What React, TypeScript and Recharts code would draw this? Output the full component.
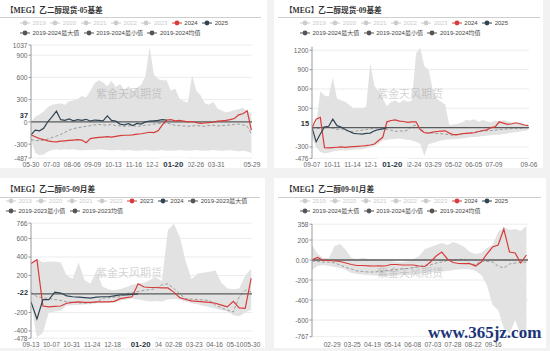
import React from 'react';
import { ComposedChart, Area, Line, XAxis, YAxis, CartesianGrid, ReferenceLine } from 'recharts';

const C_RED = '#d63c3a';
const C_NAVY = '#2f4554';
const C_BAND = '#e2e2e2';
const C_AVG = '#9c9c9c';
const C_OFF = '#cccccc';
const C_STAT = '#555555';
const SANS = "'Liberation Sans', 'Noto Sans CJK SC', sans-serif";
const SERIF = "'Liberation Serif', 'Noto Sans CJK SC', serif";

// ---------------- Panel 1: 乙二醇现货-05基差 (weekly samples) ----------------
const P1_TITLE = '【MEG】乙二醇现货-05基差';
const P1_YEARS_OFF = ['2019', '2020', '2021', '2022', '2023'];
const P1_YEAR_RED = '2024';
const P1_YEAR_NAVY = '2025';
const P1_STATS = ['2019-2024最大值', '2019-2024最小值', '2019-2024均值'];
const P1_MAX = [0, 70, 100, 140, 200, 230, 240, 250, 230, 280, 290, 310, 350, 330, 420, 520, 560, 530, 480, 550, 470, 510, 430, 480, 420, 460, 500, 620, 1010, 640, 580, 560, 560, 420, 450, 320, 280, 260, 630, 420, 360, 250, 230, 270, 180, 150, 130, 140, 160, 170, 190, 140, 120];
const P1_MIN = [-240, -420, -450, -440, -400, -380, -370, -380, -370, -375, -370, -380, -385, -380, -375, -380, -370, -375, -380, -385, -380, -380, -385, -380, -385, -390, -385, -380, -385, -390, -385, -380, -390, -385, -390, -380, -385, -390, -385, -380, -385, -390, -385, -380, -385, -390, -385, -380, -390, -395, -390, -400, -420];
const P1_AVG = [-240, -250, -255, -245, -230, -210, -190, -170, -140, -110, -90, -80, -70, -60, -50, -40, -35, -40, -45, -35, -50, -55, -60, -55, -50, -60, -55, -45, -40, -30, -25, -20, -15, -30, -45, -50, -55, -60, -55, -50, -55, -60, -50, -45, -55, -50, -45, -40, -35, -30, -40, -60, -160];
const P1_RED = [-175, -200, -225, -240, -255, -265, -270, -260, -255, -250, -245, -240, -245, -280, -225, -215, -210, -205, -200, -205, -195, -185, -180, -180, -175, -165, -160, -150, -140, -145, -120, -40, 25, 30, 15, 20, 10, 0, 5, -10, -20, -15, -10, -5, 10, 15, 20, 30, 45, 95, 110, 150, -110];
const P1_DARK = [-175, -110, -120, -85, 5, 70, 145, 30, 20, 40, 15, 30, 20, 35, 10, 25, 20, 15, 80, 20, 10, -30, -40, -25, -50, -20, -30, 0, 10, 15, 20, 30, 25];
const P1_X_DAYS = [0, 34, 68, 102, 136, 170, 204, 272, 306, 365];
const P1_X_LABELS = ['05-30', '07-03', '08-06', '09-09', '10-13', '11-16', '12-20', '02-26', '03-31', '05-29'];
const P1_BOLD_DAY = 235;
const P1_BOLD_LABEL = '01-20';
const P1_Y_TICKS = [1037, 900, 600, 300, 0, -300, -487];
const P1_Y_LABELS = ['1037', '900', '600', '300', '0', '-300', '-487'];
const P1_MARK = 37;

// ---------------- Panel 2: 乙二醇现货-09基差 ----------------
const P2_TITLE = '【MEG】乙二醇现货-09基差';
const P2_MAX = [20, 60, 560, 500, 480, 780, 450, 420, 400, 350, 300, 310, 300, 320, 1000, 650, 550, 450, 330, 400, 420, 380, 430, 400, 420, 1150, 1240, 950, 900, 600, 450, 400, 360, 40, 50, 60, 80, 120, 110, 130, 90, 120, 100, 80, 110, 90, 120, 100, 80, 70, 60, 50, 40];
const P2_MIN = [-150, -300, -380, -400, -390, -370, -360, -350, -355, -350, -345, -340, -335, -320, -310, -280, -250, -200, -190, -180, -175, -170, -180, -190, -200, -220, -250, -440, -260, -240, -220, -200, -190, -185, -180, -175, -170, -160, -150, -145, -140, -130, -125, -120, -115, -110, -100, -90, -80, -70, -60, -50, -40];
const P2_AVG = [0, -20, -10, 20, 10, -10, -30, -20, -40, -60, -55, -50, -40, -30, -20, -10, -5, -15, -30, -40, -60, -50, -55, -40, 20, 40, -10, -70, -80, -85, -90, -95, -100, -110, -120, -110, -100, -90, -80, -75, -65, -55, -50, -45, -40, -30, -25, -20, -15, -10, -10, -5, 0];
const P2_RED = [0, 130, 160, -310, -315, -310, -305, -300, -305, -300, -295, -290, -285, -280, -270, -255, -200, -150, 90, 110, 120, 100, 95, 80, 90, 90, -30, -80, -85, -70, -60, -55, -50, -85, -110, -110, -95, -90, -85, -80, -60, -45, -35, 0, 10, 90, 70, 50, 60, 75, 60, 40, 30];
const P2_DARK = [0, -220, -100, 10, 20, 130, 30, 10, -30, -60, -90, -95, -100, -90, -85, -50, -30, -20, 0];
const P2_X_DAYS = [0, 34, 68, 102, 170, 204, 238, 272, 306, 365];
const P2_X_LABELS = ['09-07', '10-11', '11-14', '12-18', '02-24', '03-29', '05-02', '06-05', '07-09', '09-06'];
const P2_BOLD_DAY = 135;
const P2_BOLD_LABEL = '01-20';
const P2_Y_TICKS = [1200, 900, 600, 300, -300, -476];
const P2_Y_LABELS = ['1200', '900', '600', '300', '-300', '-476'];
const P2_MARK = 15;

// ---------------- Panel 3: 乙二醇05-09月差 ----------------
const P3_TITLE = '【MEG】乙二醇05-09月差';
const P3_YEARS_OFF = ['2019', '2020', '2021', '2022'];
const P3_YEAR_RED = '2023';
const P3_YEAR_NAVY = '2024';
const P3_STATS = ['2019-2023最大值', '2019-2023最小值', '2019-2023均值'];
const P3_MAX = [330, 380, 340, 350, 350, 340, 200, 165, 340, 150, 110, 250, 80, 50, 40, 55, 75, 100, 110, 120, 150, 180, 140, 690, 760, 620, 350, 160, 220, 230, 240, 255, 120, 60, 50, 60, 200, 270];
const P3_MIN = [-100, -470, -420, -200, -190, -180, -125, -122, -120, -115, -110, -100, -100, -95, -95, -70, -60, -50, -60, -70, -80, -75, -80, -60, -55, -60, -80, -100, -110, -130, -140, -160, -175, -190, -230, -240, -200, -170];
const P3_AVG = [20, -30, -40, -50, -60, -70, -85, -90, -95, -100, -95, -90, -45, -40, -35, -30, 5, 15, 25, 40, 45, 60, 100, 110, 60, 0, -50, -55, -60, -65, -70, -120, -150, -175, -195, -30, 40, 20];
const P3_RED = [330, 370, -130, -140, -135, -130, -100, -90, -85, -90, -90, -85, -85, -85, -80, -50, -40, -30, 110, 75, 70, 70, 65, 65, 20, -40, -60, -75, -80, -85, -90, -100, -120, -140, -80, -150, -155, 170];
const P3_DARK = [-85, -270, -60, -60, 20, 10, -20, -30, -35, -40, -45, -35, -30, -30, -20, -10, -10, -5, 0];
const P3_X_DAYS = [0, 24, 48, 72, 96, 144, 168, 192, 216, 240, 260];
const P3_X_LABELS = ['09-13', '10-07', '10-31', '11-24', '12-18', '02-04', '02-28', '03-23', '04-16', '05-10', '05-30'];
const P3_BOLD_DAY = 129;
const P3_BOLD_LABEL = '01-20';
const P3_Y_TICKS = [766, 600, 400, 200, -200, -400, -478];
const P3_Y_LABELS = ['766', '600', '400', '200', '-200', '-400', '-478'];
const P3_MARK = -22;

// ---------------- Panel 4: 乙二醇09-01月差 ----------------
const P4_TITLE = '【MEG】乙二醇09-01月差';
const P4_MAX = [150, 60, 20, 20, 140, 160, 100, 20, 10, 20, 10, 0, -10, 0, -10, -20, -20, -10, 10, 40, 110, 130, 150, 170, 150, 180, 160, 130, 80, 60, 70, 120, 150, 280, 330, 300, 310, 290, 340];
const P4_MIN = [-100, -60, -50, -60, -70, -80, -100, -130, -140, -145, -150, -155, -160, -165, -160, -155, -150, -150, -145, -140, -130, -125, -120, -115, -110, -100, -95, -90, -95, -110, -150, -250, -450, -500, -680, -740, -600, -750, -700];
const P4_AVG = [-10, -15, -20, -20, -30, -50, -75, -90, -110, -115, -120, -120, -115, -110, -100, -95, -90, -85, -75, -65, -55, -50, -30, -20, -5, 0, 5, 10, -40, -45, -10, -15, -20, -60, -80, -40, -30, -25, -20];
const P4_RED = [0, 25, -5, -5, -10, -15, -30, -45, -55, -55, -58, -60, -58, -60, -45, -45, -50, -50, -50, -60, -65, -20, 40, 80, 10, -25, -35, -37, -37, -60, -20, 60, 130, 150, 310, 80, 70, -30, 50];
const P4_DARK: number[] = [];
const P4_X_DAYS = [25, 50, 75, 100, 125, 150, 175, 200, 225];
const P4_X_LABELS = ['02-29', '03-25', '04-19', '05-14', '06-08', '07-03', '07-28', '08-22', '09-16'];
const P4_Y_TICKS = [358, 200, 0, -200, -400, -600, -767];
const P4_Y_LABELS = ['358', '200', '0.00', '-200', '-400', '-600', '-767'];

const WATERMARK = '紫金天风期货';
const SITE_MARK = 'www.365jz.com';

function buildRows(maxV: number[], minV: number[], avgV: number[], redV: number[], darkV: number[]) {
  return maxV.map((mx, i) => ({
    d: i * 7,
    band: [minV[i], mx],
    avg: avgV[i],
    red: i < redV.length ? redV[i] : null,
    dark: i < darkV.length ? darkV[i] : null,
  }));
}

type Cfg = {
  box: { x: number; y: number; w: number; h: number };
  plot: { l: number; r: number; t: number; b: number };
  rows: any[];
  xDomain: [number, number];
  xDays: number[];
  xLabels: string[];
  bold?: { day: number; label: string };
  yDomain: [number, number];
  yTicks: number[];
  yLabels: string[];
  mark?: number;
  labelDy: number;
};

function PanelChart({ cfg }: { cfg: Cfg }) {
  const { box, plot, rows, xDomain, xDays, xLabels, bold, yDomain, yTicks, yLabels, mark, labelDy } = cfg;
  const xTicksAll = bold ? [...xDays, bold.day] : xDays;
  const yTicksAll = mark !== undefined ? [...yTicks, mark] : yTicks;

  const XTick = (p: any) => {
    const v = p.payload.value;
    const y = p.y + labelDy;
    if (bold && v === bold.day) {
      return (
        <g>
          <rect x={p.x - 15} y={y - 6} width={30} height={12} fill="#ffffff" />
          <text x={p.x} y={y} textAnchor="middle" dominantBaseline="central" fontSize={7.8} fontWeight="bold" fill="#2a3340" fontFamily={SANS}>{bold.label}</text>
        </g>
      );
    }
    const idx = xDays.indexOf(v);
    return (
      <text x={p.x} y={y} textAnchor="middle" dominantBaseline="central" fontSize={6.6} fill="#666" fontFamily={SANS}>{xLabels[idx]}</text>
    );
  };

  const YTick = (p: any) => {
    const v = p.payload.value;
    if (mark !== undefined && v === mark && p.index === yTicksAll.length - 1) {
      return (
        <text x={p.x - 3} y={p.y - 3.6} textAnchor="end" dominantBaseline="central" fontSize={7.4} fontWeight="bold" fill="#2a3340" fontFamily={SANS}>{String(mark)}</text>
      );
    }
    const idx = yTicks.indexOf(v);
    return (
      <g>
        <line x1={p.x - 2.5} x2={p.x} y1={p.y} y2={p.y} stroke="#999" strokeWidth={1} />
        <text x={p.x - 3.5} y={p.y + (v === 0 && mark !== undefined ? 1 : 0)} textAnchor="end" dominantBaseline="central" fontSize={6.6} fill="#666" fontFamily={SANS}>{yLabels[idx]}</text>
      </g>
    );
  };

  return (
    <div style={{ position: 'absolute', left: box.x, top: box.y, width: box.w, height: box.h }}>
      <ComposedChart
        width={box.w}
        height={box.h}
        data={rows}
        margin={{ top: plot.t - box.y, right: box.x + box.w - plot.r, bottom: 0, left: 0 }}
      >
        <CartesianGrid vertical={false} stroke="#ececec" horizontalValues={yTicks} />
        <XAxis
          dataKey="d"
          type="number"
          domain={xDomain}
          ticks={xTicksAll}
          interval={0}
          allowDataOverflow
          axisLine={false}
          tickLine={false}
          tickSize={0}
          tickMargin={0}
          height={box.y + box.h - plot.b}
          tick={XTick}
        />
        <YAxis
          type="number"
          domain={yDomain}
          ticks={yTicksAll}
          interval={0}
          allowDataOverflow
          width={plot.l - box.x}
          axisLine={{ stroke: '#999', strokeWidth: 1 }}
          tickLine={false}
          tickSize={0}
          tickMargin={0}
          tick={YTick}
        />
        <Area dataKey="band" type="linear" stroke="none" fill={C_BAND} fillOpacity={1} isAnimationActive={false} dot={false} activeDot={false} />
        <Line dataKey="avg" type="linear" stroke={C_AVG} strokeWidth={1} strokeDasharray="3 2" dot={false} activeDot={false} isAnimationActive={false} />
        <ReferenceLine y={0} stroke="#5a5a5a" strokeWidth={1.3} />
        <Line dataKey="red" type="linear" stroke={C_RED} strokeWidth={1.2} dot={false} activeDot={false} isAnimationActive={false} />
        <Line dataKey="dark" type="linear" stroke={C_NAVY} strokeWidth={1.2} dot={false} activeDot={false} isAnimationActive={false} />
      </ComposedChart>
    </div>
  );
}

type LegItem = { name: string; color: string; text: string };

function LegendRow({ x, cy, items }: { x: number; cy: number; items: LegItem[] }) {
  return (
    <div style={{ position: 'absolute', left: x, top: cy - 5, height: 10, display: 'flex', alignItems: 'center', whiteSpace: 'nowrap' }}>
      {items.map((it) => (
        <div key={it.name} style={{ display: 'flex', alignItems: 'center', marginRight: 4.5 }}>
          <svg width={10} height={8} style={{ display: 'block' }}>
            <line x1={0} x2={10} y1={4} y2={4} stroke={it.color} strokeWidth={1} />
            <circle cx={5} cy={4} r={2.4} fill={it.color} />
          </svg>
          <span style={{ marginLeft: 2.5, fontSize: 6, color: it.text, lineHeight: '10px', fontFamily: SANS }}>{it.name}</span>
        </div>
      ))}
    </div>
  );
}

function legendItems(off: string[], red: string, navy: string, stats: string[]) {
  const a: LegItem[] = off.map((n) => ({ name: n, color: C_OFF, text: C_OFF }));
  a.push({ name: red, color: C_RED, text: '#444' });
  a.push({ name: navy, color: C_NAVY, text: '#444' });
  const s: LegItem[] = stats.map((n) => ({ name: n, color: C_STAT, text: '#444' }));
  return { years: a, stats: s };
}

function Header({ title, tx, ty, sepY, sepX1, sepX2 }: { title: string; tx: number; ty: number; sepY: number; sepX1: number; sepX2: number }) {
  return (
    <>
      <div style={{ position: 'absolute', left: tx, top: ty - 6, height: 12, lineHeight: '12px', fontSize: 7.6, fontWeight: 'bold', color: '#333', fontFamily: SERIF, whiteSpace: 'nowrap' }}>{title}</div>
      <div style={{ position: 'absolute', left: sepX1, top: sepY, width: sepX2 - sepX1, height: 1, background: '#cfcfcf' }} />
    </>
  );
}

function Watermark({ cx, cy }: { cx: number; cy: number }) {
  return (
    <div style={{ position: 'absolute', left: cx - 40, top: cy - 7, width: 80, textAlign: 'center', fontSize: 11, lineHeight: '14px', color: 'rgba(140,140,140,0.38)', fontFamily: "'Noto Sans CJK SC', sans-serif", whiteSpace: 'nowrap' }}>{WATERMARK}</div>
  );
}

export default function App() {
  const cfg1: Cfg = {
    box: { x: 0, y: 0, w: 267, h: 168 },
    plot: { l: 31, r: 252, t: 45, b: 158 },
    rows: buildRows(P1_MAX, P1_MIN, P1_AVG, P1_RED, P1_DARK),
    xDomain: [0, 365], xDays: P1_X_DAYS, xLabels: P1_X_LABELS,
    bold: { day: P1_BOLD_DAY, label: P1_BOLD_LABEL },
    yDomain: [-487, 1037], yTicks: P1_Y_TICKS, yLabels: P1_Y_LABELS, mark: P1_MARK, labelDy: 6,
  };
  const cfg2: Cfg = {
    box: { x: 274, y: 0, w: 269, h: 168 },
    plot: { l: 312, r: 529, t: 46.7, b: 158.3 },
    rows: buildRows(P2_MAX, P2_MIN, P2_AVG, P2_RED, P2_DARK),
    xDomain: [0, 365], xDays: P2_X_DAYS, xLabels: P2_X_LABELS,
    bold: { day: P2_BOLD_DAY, label: P2_BOLD_LABEL },
    yDomain: [-476, 1255], yTicks: P2_Y_TICKS, yLabels: P2_Y_LABELS, mark: P2_MARK, labelDy: 5.8,
  };
  const cfg3: Cfg = {
    box: { x: 0, y: 178, w: 265, h: 170 },
    plot: { l: 31, r: 252, t: 223.1, b: 338.2 },
    rows: buildRows(P3_MAX, P3_MIN, P3_AVG, P3_RED, P3_DARK),
    xDomain: [0, 260], xDays: P3_X_DAYS, xLabels: P3_X_LABELS,
    bold: { day: P3_BOLD_DAY, label: P3_BOLD_LABEL },
    yDomain: [-478, 766], yTicks: P3_Y_TICKS, yLabels: P3_Y_LABELS, mark: P3_MARK, labelDy: 6,
  };
  const cfg4: Cfg = {
    box: { x: 274, y: 178, w: 272, h: 170 },
    plot: { l: 312, r: 528, t: 224.2, b: 336.7 },
    rows: buildRows(P4_MAX, P4_MIN, P4_AVG, P4_RED, P4_DARK),
    xDomain: [0, 268], xDays: P4_X_DAYS, xLabels: P4_X_LABELS,
    yDomain: [-767, 358], yTicks: P4_Y_TICKS, yLabels: P4_Y_LABELS, labelDy: 7.5,
  };

  const L1 = legendItems(P1_YEARS_OFF, P1_YEAR_RED, P1_YEAR_NAVY, P1_STATS);
  const L3 = legendItems(P3_YEARS_OFF, P3_YEAR_RED, P3_YEAR_NAVY, P3_STATS);

  return (
    <div style={{ position: 'absolute', left: 0, top: 0, width: 550, height: 351, background: '#f2f2f2', overflow: 'hidden' }}>
      {[cfg1, cfg2, cfg3, cfg4].map((c, i) => (
        <div key={'bg' + i} style={{ position: 'absolute', left: c.box.x, top: c.box.y, width: c.box.w, height: c.box.h, background: '#ffffff' }} />
      ))}
      <PanelChart cfg={cfg1} />
      <PanelChart cfg={cfg2} />
      <PanelChart cfg={cfg3} />
      <PanelChart cfg={cfg4} />

      <Header title={P1_TITLE} tx={6} ty={10.5} sepY={16.5} sepX1={0} sepX2={261} />
      <Header title={P2_TITLE} tx={285} ty={10.5} sepY={16.5} sepX1={278} sepX2={540} />
      <Header title={P3_TITLE} tx={6} ty={190} sepY={196.5} sepX1={0} sepX2={260} />
      <Header title={P4_TITLE} tx={285} ty={190} sepY={196.5} sepX1={278} sepX2={541} />

      <LegendRow x={20} cy={22.7} items={L1.years} />
      <LegendRow x={20} cy={32.7} items={L1.stats} />
      <LegendRow x={300} cy={22.7} items={L1.years} />
      <LegendRow x={300} cy={32.7} items={L1.stats} />
      <LegendRow x={6} cy={201} items={[...L3.years, L3.stats[0]]} />
      <LegendRow x={6} cy={211} items={L3.stats.slice(1)} />
      <LegendRow x={300} cy={201} items={L1.years} />
      <LegendRow x={300} cy={211} items={L1.stats} />

      <Watermark cx={129} cy={93} />
      <Watermark cx={410} cy={93} />
      <Watermark cx={129} cy={272} />
      <Watermark cx={410} cy={272} />

      <div style={{ position: 'absolute', left: 428, top: 323, fontSize: 17, lineHeight: '20px', fontWeight: 'bold', color: '#1b357a', fontFamily: SERIF, whiteSpace: 'nowrap' }}>{SITE_MARK}</div>
    </div>
  );
}
